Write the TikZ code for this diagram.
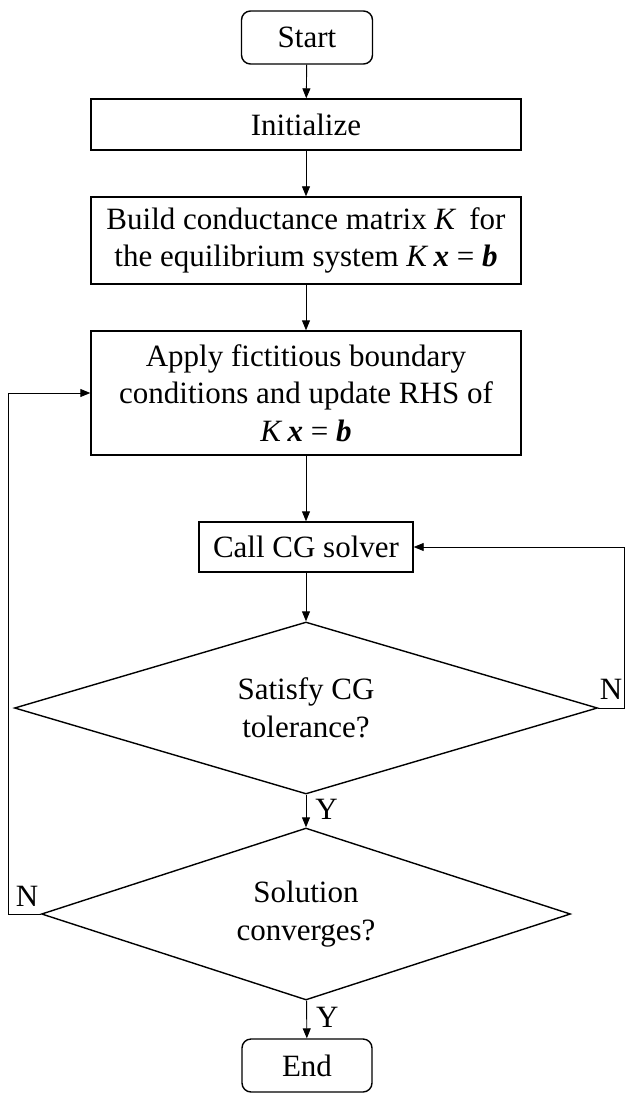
\documentclass[tikz,border=0pt]{standalone}
\usepackage{fontspec}
\setmainfont{Liberation Serif}
\usetikzlibrary{shapes, arrows.meta, positioning}
\newcommand{\eqKxb}{\textit{K}\,\textbf{\textit{x}} = \textbf{\textit{b}}}

\begin{document}
\begin{tikzpicture}[x=1pt, y=-1pt,
            every node/.style={font=\fontsize{31}{37.5}\selectfont},
            pb/.style={rectangle, draw=black, line width=1.4pt, minimum width=430pt, inner sep=0pt, align=center},
            term/.style={rectangle, rounded corners=9pt, draw=black, line width=1.4pt, minimum width=131pt, minimum height=53pt, inner sep=0pt},
            dec/.style={diamond, draw=black, line width=1.4pt, aspect=3, inner sep=0pt, align=center},
            ar/.style={draw=black, line width=0.9pt, -{Triangle[length=10pt, width=8pt]}},
            lbl/.style={inner sep=0pt}]
            \useasboundingbox (0,0) rectangle (624,1094);
            \node[term] (start) at (307,37.5) {Start};
            \node[pb, minimum height=51pt] (init) at (306,124.5) {Initialize};
            \node[pb, minimum height=87pt] (build) at (306,240.5) {Build conductance matrix \textit{K}\, for\\the equilibrium system \eqKxb};
            \node[pb, minimum height=124pt] (apply) at (306,393) {Apply fictitious boundary\\conditions and update RHS of\\\eqKxb};
            \node[pb, minimum width=214pt, minimum height=50pt] (cg) at (306,547) {Call CG solver};
            \node[dec, minimum width=583pt, minimum height=172pt] (tol) at (306,708) {Satisfy CG\\tolerance?};
            \node[dec, minimum width=529pt, minimum height=172pt] (conv) at (306,914) {Solution\\converges?};
            \node[term, minimum width=130pt] (stop) at (307,1065.5) {End};
            \draw[ar] (start) -- (init);
            \draw[ar] (init) -- (build);
            \draw[ar] (build) -- (apply);
            \draw[ar] (apply) -- (cg);
            \draw[ar] (cg) -- (tol);
            \draw[ar] (tol) -- (conv) node[lbl, pos=0.45, right=9pt] {Y};
            \draw[ar] (conv) -- (stop) node[lbl, pos=0.45, right=9pt] {Y};
            \draw[ar] (tol.east) -- ++(26,0) |- (cg.east);
            \draw[ar] (conv.west) -- ++(-32,0) |- (apply.west);
            \node[lbl] (nTol) at (611,689) {N};
            \node[lbl] (nConv) at (27,896) {N};
        \end{tikzpicture}
\end{document}
